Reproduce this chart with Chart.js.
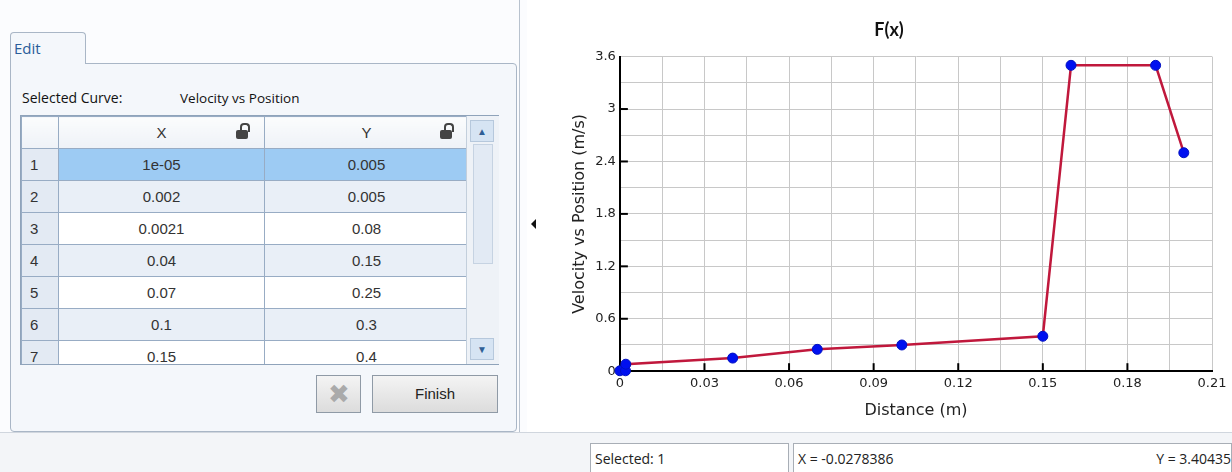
<!DOCTYPE html>
<html>
<head>
<meta charset="utf-8">
<script src="https://cdn.jsdelivr.net/npm/chart.js"></script>
<style>
  body { margin: 0; width: 1232px; height: 472px; position: relative; background: #fff; font-family: "Open Sans", sans-serif; overflow: hidden; }
  .abs { position: absolute; }
  #left { left: 0; top: 0; width: 527px; height: 432px; background: #fbfcfe; }
  #tab { left: 10px; top: 32px; width: 76px; height: 32px; border: 1px solid #a9b6c6; border-bottom: none; border-radius: 4px 4px 0 0; background: #f4f7fb; color: #2a5d99; font-size: 15px; line-height: 30px; padding-left: 3px; box-sizing: border-box; z-index: 2; }
  #panel { left: 10px; top: 63px; width: 507px; height: 369px; border: 1px solid #a9b6c6; border-radius: 0 4px 4px 4px; background: #f4f7fb; box-sizing: border-box; }
  #curve { left: 22px; top: 88px; font-size: 14px; color: #111; }
  #curveName { left: 180px; top: 89px; font-size: 13.5px; color: #111; }
  table { border-collapse: collapse; font-family: "Liberation Sans", Arial, sans-serif; font-size: 15px; color: #333; }
  #grid { left: 20px; top: 115px; width: 479px; height: 250px; border: 1px solid #8fa3ba; overflow: hidden; background: #fff; box-sizing: border-box; }
  td { border: 1px solid #98acc4; text-align: center; height: 31px; padding: 0; }
  td.n { width: 37px; background: #e3eaf3; text-align: left; padding-left: 8px; box-sizing: border-box; }
  tr.alt td { background: #e9eff7; }
  tr.alt td.n, tr td.n { background: #e3eaf3; }
  tr.sel td { background: #9dcbf3; }
  tr.sel td.n { background: #e3eaf3; }
  tr.head td { background: linear-gradient(#fbfcfd, #eef2f7); position: relative; }
  .lock { display: inline-block; width: 12px; height: 9px; background: #444; border-radius: 2px; position: absolute; right: 16px; top: 13px; }
  .lock:before { content: ''; position: absolute; width: 6px; height: 7px; border: 2px solid #444; border-bottom: none; border-radius: 4px 4px 0 0; left: 4px; top: -7px; }
  #scroll { left: 466px; top: 116px; width: 32px; height: 248px; background: #eef2f7; border-left: 1px solid #c3cfdc; }
  .sbtn { position: absolute; left: 3px; width: 24px; height: 22px; background: #d6e4f3; border: 1px solid #b6c8dc; box-sizing: border-box; color: #2f5f96; font-size: 10px; text-align: center; line-height: 20px; }
  #thumb { left: 6px; top: 28px; width: 20px; height: 120px; background: #e2eaf4; border: 1px solid #c6d3e2; box-sizing: border-box; }
  .btn { top: 375px; height: 38px; border: 1px solid #8f9aa6; background: linear-gradient(#f4f4f4, #dcdcdc); box-sizing: border-box; font-family: "Liberation Sans", Arial, sans-serif; font-size: 15px; color: #222; text-align: center; line-height: 36px; }
  #status { left: 0; top: 432px; width: 1232px; height: 40px; background: #f3f5f8; border-top: 1px solid #d0d6de; }
  .sbox { top: 443px; height: 29px; border: 1px solid #a8aeb6; border-bottom: none; background: #fff; font-size: 14px; color: #222; line-height: 29px; padding-left: 4px; box-sizing: border-box; }
  #chartBox { left: 560px; top: 0; width: 672px; height: 432px; }
</style>
</head>
<body>
<div id="left" class="abs"></div>
<div class="abs" style="left:519px;top:0;width:1px;height:432px;background:#b8c2ce"></div>
<div class="abs" style="left:531px;top:219px;width:0;height:0;border-top:5px solid transparent;border-bottom:5px solid transparent;border-right:5px solid #111"></div>
<div id="tab" class="abs">Edit</div>
<div id="panel" class="abs"></div>
<div id="curve" class="abs">Selected Curve:</div>
<div id="curveName" class="abs">Velocity vs Position</div>
<div id="grid" class="abs">
  <table id="tbl"></table>
</div>
<div id="scroll" class="abs">
  <div class="sbtn" style="top:4px">&#9650;</div>
  <div id="thumb" class="abs"></div>
  <div class="sbtn" style="top:222px">&#9660;</div>
</div>
<div class="abs btn" style="left:316px;width:45px;color:#aaa;font-size:26px;">&#10006;</div>
<div class="abs btn" style="left:372px;width:126px;">Finish</div>
<div id="status" class="abs"></div>
<div class="abs sbox" style="left:590px;width:199px;">Selected: 1</div>
<div class="abs sbox" style="left:793px;width:439px;">X = -0.0278386<span style="position:absolute;right:0">Y = 3.40435</span></div>
<div id="chartBox" class="abs"><canvas id="myChart"></canvas></div>
<script>
'use strict';

// curve points (x = distance, y = velocity)
let xVals = [0.00001, 0.002, 0.0021, 0.04, 0.07, 0.1, 0.15, 0.16, 0.19, 0.2];
let yVals = [0.005, 0.005, 0.08, 0.15, 0.25, 0.3, 0.4, 3.5, 3.5, 2.5];
let tableX = ['1e-05', '0.002', '0.0021', '0.04', '0.07', '0.1', '0.15'];
let tableY = ['0.005', '0.005', '0.08', '0.15', '0.25', '0.3', '0.4'];
let xTicks = ['0', '0.03', '0.06', '0.09', '0.12', '0.15', '0.18', '0.21'];
let yTicks = ['0', '0.6', '1.2', '1.8', '2.4', '3', '3.6'];

// table on the left
const tbl = document.getElementById( 'tbl' );
let head = '<tr class="head"><td class="n"></td><td style="width:205px">X<span class="lock"></span></td><td style="width:203px">Y<span class="lock"></span></td></tr>';
let rows = '';
for ( let i = 0; i < tableX.length; i++ ) {
  let cls = i === 0 ? 'sel' : ( i % 2 === 1 ? 'alt' : '' );
  rows += `<tr class="${cls}"><td class="n">${i + 1}</td><td>${tableX[i]}</td><td>${tableY[i]}</td></tr>`;
}
tbl.innerHTML = head + rows;

let pts = [];
for ( let i = 0; i < xVals.length; i++ ) {
  pts.push( { x: xVals[i], y: yVals[i] } );
}

// inward tick marks on the axes
const innerTicks = {
  id: 'innerTicks',
  afterDatasetsDraw( chart ) {
    const ctx = chart.ctx;
    const xs = chart.scales.x;
    const ys = chart.scales.y;
    const a = chart.chartArea;
    ctx.save();
    ctx.strokeStyle = '#000';
    ctx.lineWidth = 2;
    for ( let i = 1; i < xTicks.length - 1; i++ ) {
      let px = xs.getPixelForValue( 0.03 * i );
      ctx.beginPath();
      ctx.moveTo( px, a.bottom );
      ctx.lineTo( px, a.bottom - 8 );
      ctx.stroke();
    }
    for ( let i = 1; i < yTicks.length - 1; i++ ) {
      let py = ys.getPixelForValue( 0.6 * i );
      ctx.beginPath();
      ctx.moveTo( a.left, py );
      ctx.lineTo( a.left + 8, py );
      ctx.stroke();
    }
    ctx.restore();
  }
};

let ctx = document.getElementById( 'myChart' ).getContext( '2d' );
let myChart = new Chart( ctx, {
  type: 'scatter',
  data: {
    datasets: [{
      data: pts,
      showLine: true,
      borderColor: '#c0183c',
      borderWidth: 2.5,
      pointBackgroundColor: '#0010f0',
      pointBorderColor: '#0010c0',
      pointBorderWidth: 1,
      pointRadius: 5,
      clip: false
    }]
  },
  options: {
    responsive: true,
    maintainAspectRatio: false,
    animation: false,
    layout: { padding: { left: 6, right: 20, top: 17, bottom: 8 } },
    plugins: {
      legend: { display: false },
      tooltip: { enabled: false },
      title: {
        display: true,
        text: 'F(x)',
        color: '#111',
        font: { family: 'Lato', size: 18, weight: 'bold' },
        padding: { top: 2, bottom: 16 }
      }
    },
    scales: {
      x: {
        type: 'linear',
        min: 0,
        max: 0.21,
        ticks: {
          stepSize: 0.015,
          autoSkip: false,
          maxRotation: 0,
          color: '#222',
          font: { family: 'DejaVu Sans', size: 13 },
          padding: 5,
          callback: ( v, i ) => ( i % 2 === 0 ? xTicks[i / 2] : '' )
        },
        grid: { color: '#c8c8c8', drawTicks: false, lineWidth: 1 },
        border: { color: '#000', width: 2 },
        title: {
          display: true,
          text: 'Distance (m)',
          color: '#222',
          font: { family: 'DejaVu Sans', size: 16 },
          padding: { top: 4 }
        }
      },
      y: {
        type: 'linear',
        min: 0,
        max: 3.6,
        ticks: {
          stepSize: 0.3,
          autoSkip: false,
          color: '#222',
          font: { family: 'DejaVu Sans', size: 13 },
          padding: 4,
          callback: ( v, i ) => ( i % 2 === 0 ? yTicks[i / 2] : '' )
        },
        grid: { color: '#c8c8c8', drawTicks: false, lineWidth: 1 },
        border: { color: '#000', width: 2 },
        title: {
          display: true,
          text: 'Velocity vs Position (m/s)',
          color: '#222',
          font: { family: 'DejaVu Sans', size: 16 },
          padding: { bottom: 2 }
        }
      }
    }
  },
  plugins: [innerTicks]
} );
</script>
</body>
</html>
